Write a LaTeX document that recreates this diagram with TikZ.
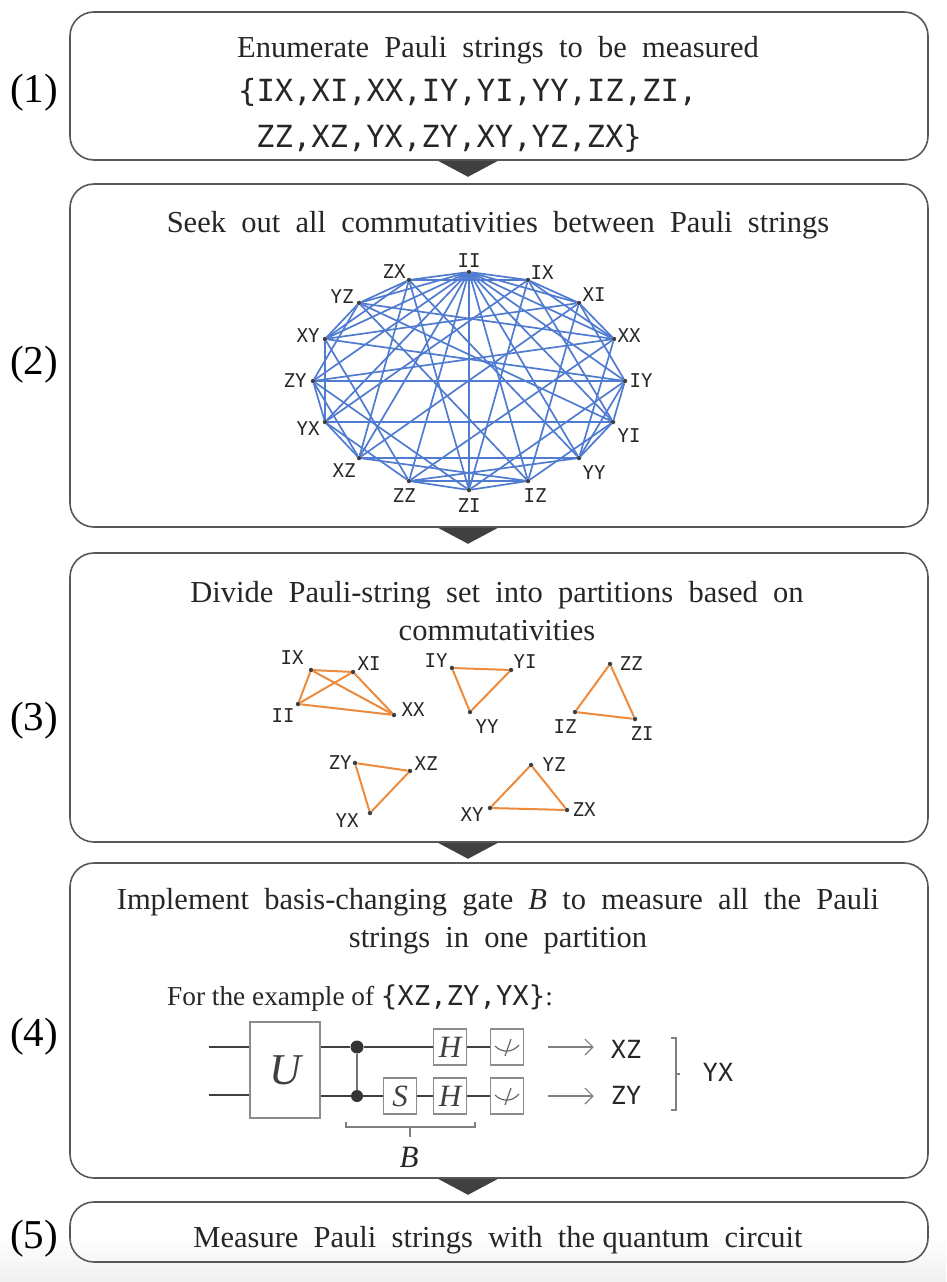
\documentclass[tikz,border=0pt]{standalone}
\usepackage{fontspec}
\setmainfont{Liberation Serif}
\setmonofont{DejaVu Sans Mono}
\usetikzlibrary{arrows.meta,calc}
\definecolor{edgeblue}{HTML}{4F7BD0}
\definecolor{edgeorange}{HTML}{ED8A3C}
\definecolor{boxline}{HTML}{585858}
\tikzset{
  stepbox/.style={draw=boxline,line width=1.6pt,rounded corners=24pt,inner sep=0pt,minimum width=858pt},
  steptext/.style={font=\fontsize{30.5}{38}\selectfont,align=center,inner sep=0pt,text=black!85},
  numtext/.style={font=\fontsize{41}{44}\selectfont,inner sep=0pt},
  monotext/.style={font=\fontsize{30.5}{36}\ttfamily\selectfont,inner sep=0pt,anchor=west,text=black!85},
  pt/.style={circle,fill=black!75,inner sep=0pt,minimum size=4.5pt},
  pauli/.style={font=\fontsize{19}{19}\ttfamily\selectfont,inner sep=0pt,text=black!85},
  gedge/.style={draw=edgeblue,line width=1.7pt},
  pedge/.style={draw=edgeorange,line width=2pt},
  gatebox/.style={draw=black!45,line width=1.1pt,inner sep=0pt,font=\fontsize{31}{31}\itshape\selectfont,minimum width=33pt,minimum height=36pt,text=black!75},
  wire/.style={draw=black!75,line width=1.5pt},
  brace/.style={draw=black!50,line width=1.2pt},
  downtri/.style={fill=black!75},
  outtext/.style={font=\fontsize{25}{25}\ttfamily\selectfont,inner sep=0pt,text=black!85}
}
\begin{document}
\begin{tikzpicture}[x=1pt,y=-1pt]
\useasboundingbox (0,0) rectangle (946,1282);
\shade[top color=white,bottom color=black!6] (0,1235) rectangle (946,1282);

% the five steps
\node[stepbox,minimum height=148pt] (box1) at (499,86) {};
\node[stepbox,minimum height=343pt] (box2) at (499,355.5) {};
\node[stepbox,minimum height=289pt] (box3) at (499,697.5) {};
\node[stepbox,minimum height=315pt] (box4) at (499,1020.5) {};
\node[stepbox,minimum height=60pt] (box5) at (499,1232) {};

\node[numtext] (num1) at (34,93) {(1)};
\node[numtext] (num2) at (34,365) {(2)};
\node[numtext] (num3) at (34,721) {(3)};
\node[numtext] (num4) at (34,1037) {(4)};
\node[numtext] (num5) at (34,1239) {(5)};

\foreach \a in {1,2,3,4}
  \fill[downtri] ([xshift=-61pt]box\a.south) -- ([xshift=-1pt]box\a.south) -- ([xshift=-31pt,yshift=-16pt]box\a.south) -- cycle;

\node[steptext] (txt1) at (498,50) {Enumerate\ \ Pauli\ \ strings\ \ to\ \ be\ \ measured};
\node[monotext] (str1) at (238,92) {\{IX,XI,XX,IY,YI,YY,IZ,ZI,};
\node[monotext] (str2) at (256,138) {ZZ,XZ,YX,ZY,XY,YZ,ZX\}};
\node[steptext] (txt2) at (498,225) {Seek\ \ out\ \ all\ \ commutativities\ \ between\ \ Pauli\ \ strings};
\node[steptext] (txt3) at (497,611) {Divide\ \ Pauli-string\ \ set\ \ into\ \ partitions\ \ based\ \ on\\commutativities};
\node[steptext] (txt4) at (498,921) {Implement\ \ basis-changing\ \ gate\ \ \textit{B}\ \ to\ \ measure\ \ all\ \ the\ \ Pauli\\strings\ \ in\ \ one\ \ partition};
\node[steptext] (txt5) at (498,1240) {Measure\ \ Pauli\ \ strings\ \ with\ \ the\ quantum\ \ circuit};

% commutativity graph
\foreach \name/\x/\y/\lx/\ly in {II/469/272/0/-11,IX/528/280/14/-7,XI/579/303/15/-8,XX/614/339/15/-3,
    IY/625/381/16/0,YI/613/422/16/14,YY/579/458/15/15,IZ/528/481/7/15,
    ZI/469/490/0/16,ZZ/409/481/-5/15,XZ/359/458/-15/13,YX/325/422/-17/7,
    ZY/313/381/-18/0,XY/325/339/-17/-3,YZ/359/303/-17/-6,ZX/409/280/-15/-8}{
  \node[pt] (g\name) at (\x,\y) {};
  \node[pauli] (gl\name) at (\x+\lx,\y+\ly) {\name};
}
\foreach \a in {IX,XI,XX,IY,YI,YY,IZ,ZI,ZZ,XZ,YX,ZY,XY,YZ,ZX}
  \draw[gedge] (gII) -- (g\a);
\foreach \a/\b in {IX/XI,IX/YI,IX/ZI,IX/XX,IX/YX,IX/ZX,XI/IY,XI/IZ,XI/XX,XI/XY,XI/XZ,
    XX/YY,XX/ZZ,XX/YZ,XX/ZY,IY/YI,IY/ZI,IY/XY,IY/YY,IY/ZY,YI/IZ,YI/YX,YI/YY,YI/YZ,
    YY/XZ,YY/ZX,YY/ZZ,IZ/ZI,IZ/XZ,IZ/YZ,IZ/ZZ,ZI/ZX,ZI/ZY,ZI/ZZ,ZZ/XY,ZZ/YX,
    XZ/YX,XZ/ZX,XZ/ZY,YX/XY,YX/ZY,ZY/YZ,XY/YZ,XY/ZX,YZ/ZX}
  \draw[gedge] (g\a) -- (g\b);

% partitions
\foreach \name/\x/\y/\lx/\ly in {II/298/704/-15/12,IX/311/670/-19/-12,XI/353/672/16/-8,XX/394/715/19/-5,
    IY/452/668/-16/-7,YI/511/670/14/-8,YY/470/712/17/15,
    ZZ/610/664/21/0,IZ/575/712/-10/15,ZI/635/719/7/15,
    ZY/355/763/-15/0,XZ/410/771/16/-7,YX/370/813/-23/8,
    YZ/531/765/23/0,XY/490/808/-18/7,ZX/567/810/17/0}{
  \node[pt] (p\name) at (\x,\y) {};
  \node[pauli] (pl\name) at (\x+\lx,\y+\ly) {\name};
}
\foreach \a/\b in {II/IX,II/XI,II/XX,IX/XI,IX/XX,XI/XX,IY/YI,YI/YY,YY/IY,
    ZZ/IZ,IZ/ZI,ZI/ZZ,ZY/XZ,XZ/YX,YX/ZY,YZ/XY,XY/ZX,ZX/YZ}
  \draw[pedge] (p\a) -- (p\b);

% circuit
\node[font=\fontsize{27.3}{30}\selectfont,inner sep=0pt,anchor=west,text=black!85] (extxt) at (167,998) {For the example of \texttt{\{XZ,ZY,YX\}}:};
\node[gatebox,minimum width=70pt,minimum height=96pt,font=\fontsize{44}{44}\itshape\selectfont] (gU) at (285,1070) {U};
\coordinate (in1) at (209,1047);
\coordinate (in2) at (209,1095);
\node[circle,fill=black!80,inner sep=0pt,minimum size=13pt] (cz1) at (357,1047) {};
\node[circle,fill=black!80,inner sep=0pt,minimum size=12pt] (cz2) at (357,1096) {};
\node[gatebox] (h1) at (450,1047) {H};
\node[gatebox] (s2) at (400,1096) {S};
\node[gatebox] (h2) at (450,1096) {H};
\node[gatebox] (m1) at (507,1047) {};
\node[gatebox] (m2) at (507,1096) {};
\foreach \m in {m1,m2}{
  \draw[black!60,line width=1.2pt] ([shift={(-12pt,1pt)}]\m.center) .. controls ([shift={(-5pt,-6pt)}]\m.center) and ([shift={(5pt,-6pt)}]\m.center) .. ([shift={(12pt,2pt)}]\m.center);
  \draw[black!60,line width=1.2pt] ([shift={(4pt,8pt)}]\m.center) -- ([shift={(-2pt,-9pt)}]\m.center);
}
\draw[wire] (in1) -- (gU.west |- in1);
\draw[wire] (in2) -- (gU.west |- in2);
\draw[wire] (gU.east |- cz1) -- (cz1) -- (h1) -- (m1);
\draw[wire] (gU.east |- cz2) -- (cz2) -- (s2) -- (h2) -- (m2);
\draw[black!55,line width=1.2pt] (cz1) -- (cz2);

\node[outtext] (oXZ) at (626,1049) {XZ};
\node[outtext] (oZY) at (626,1095) {ZY};
\node[outtext] (oYX) at (718,1072) {YX};
\draw[brace,-{Straight Barb[length=8pt,width=16pt]}] ([xshift=24pt]m1.east) -- ([xshift=-17pt]oXZ.west |- m1.east);
\draw[brace,-{Straight Barb[length=8pt,width=16pt]}] ([xshift=24pt]m2.east) -- ([xshift=-17pt]oZY.west |- m2.east);

\coordinate (br1) at (671,1038);
\coordinate (br2) at (671,1110);
\draw[brace] (br1) -- ++(5,0) -- ++(0,72) -- (br2);
\draw[brace] (676,1074) -- (680,1074);

\node[font=\fontsize{31}{31}\itshape\selectfont,inner sep=0pt,text=black!85] (bB) at (409,1157) {B};
\coordinate (bk1) at (346,1122);
\coordinate (bk2) at (475,1122);
\draw[brace] (bk1) -- ++(0,5) -- ++(129,0) -- (bk2);
\draw[brace] (410,1127) -- (410,1137);
\end{tikzpicture}
\end{document}
